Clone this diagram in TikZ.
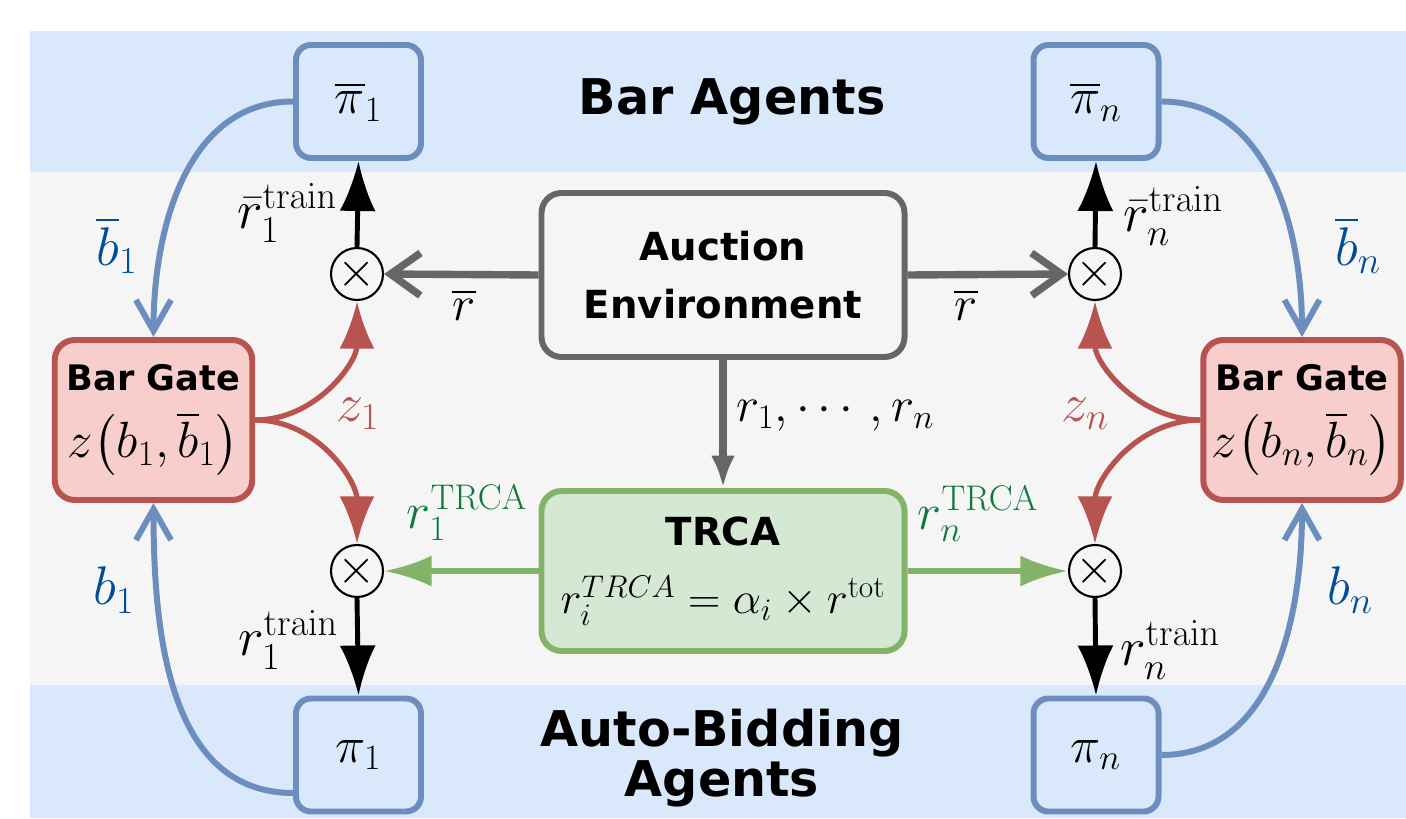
\documentclass[tikz,border=0pt]{standalone}
\usepackage{fix-cm}
\usepackage{amsmath,amssymb}
\usepackage[no-math]{fontspec}
\setsansfont{DejaVu Sans}
\usepackage{xcolor}
\usetikzlibrary{arrows.meta,positioning,calc}

\definecolor{bandblue}{HTML}{DAE8FC}
\definecolor{bandgray}{HTML}{F5F5F5}
\definecolor{agentline}{HTML}{6C8EBF}
\definecolor{gatefill}{HTML}{F8CECC}
\definecolor{gateline}{HTML}{B85450}
\definecolor{trcafill}{HTML}{D5E8D4}
\definecolor{trcaline}{HTML}{82B366}
\definecolor{envline}{HTML}{666666}
\definecolor{bidtext}{RGB}{0,76,153}
\definecolor{trcatext}{RGB}{16,120,60}

\newcommand{\bandfont}{\fontsize{28}{28.5}\selectfont\sffamily\bfseries}
\newcommand{\envfont}{\fontsize{22}{33}\selectfont\sffamily\bfseries}
\newcommand{\gatefont}{\fontsize{20}{24}\selectfont\sffamily\bfseries}
\newcommand{\symfont}{\fontsize{29}{34}\selectfont}
\newcommand{\formfont}{\fontsize{25.5}{30}\selectfont}
\newcommand{\bigsym}{\fontsize{31}{36}\selectfont}
\newcommand{\smallsym}{\fontsize{28}{32}\selectfont}

\begin{document}
\begin{tikzpicture}[line join=round,
  agentbox/.style={draw=agentline, fill=bandblue, line width=3.4pt, rounded corners=0.3cm,
    minimum width=2.5cm, minimum height=2.26cm, font=\symfont},
  gatebox/.style={draw=gateline, fill=gatefill, line width=3.4pt, rounded corners=0.4cm,
    minimum width=3.95cm, minimum height=3.2cm, align=center, font=\symfont},
  envbox/.style={draw=envline, fill=bandgray, line width=3.4pt, rounded corners=0.4cm,
    minimum width=7.26cm, minimum height=3.28cm, align=center},
  trcabox/.style={draw=trcaline, fill=trcafill, line width=3.4pt, rounded corners=0.4cm,
    minimum width=7.26cm, minimum height=3.2cm, align=center, font=\formfont},
  mult/.style={circle, draw, line width=1.2pt, minimum size=1.04cm, inner sep=0pt,
    font=\fontsize{28}{28}\selectfont},
  rewardarrow/.style={line width=2.8pt, -{Latex[length=1.0cm,width=0.72cm]}},
  gatearrow/.style={gateline, line width=3pt, -{Latex[length=0.95cm,width=0.7cm]}},
  trcaarrow/.style={trcaline, line width=3.4pt, -{Latex[length=0.95cm,width=0.62cm]}},
  envarrow/.style={envline, line width=4.2pt, -{Straight Barb[length=0.6cm,width=0.85cm]}},
  bidarrow/.style={agentline, line width=3.4pt, -{Straight Barb[length=0.62cm,width=0.7cm]}},
  lbl/.style={font=\bigsym}]
\useasboundingbox (0,0) rectangle (28.12,16.36);
% bands
\fill[bandblue] (0.6,12.92) rectangle (28.12,15.74);
\fill[bandgray] (0.6,2.66) rectangle (28.12,12.92);
\fill[bandblue] (0.6,0) rectangle (28.12,2.66);
\node[font=\bandfont] (baragents) at (14.64,14.32) {Bar Agents};
\node[font=\bandfont, align=center] (autoagents) at (14.44,1.2) {Auto-Bidding\\Agents};

% agents
\node[agentbox] (pibar1) at (7.17,14.33) {$\overline{\pi}_1$};
\node[agentbox] (pibarn) at (21.92,14.33) {$\overline{\pi}_n$};
\node[agentbox] (pi1) at (7.17,1.26) {$\pi_1$};
\node[agentbox] (pin) at (21.92,1.26) {$\pi_n$};

% environment and TRCA
\node[envbox, font=\envfont] (env) at (14.46,10.86) {Auction\\Environment};
\node[trcabox] (trca) at (14.46,4.94) {{\envfont TRCA}\\[9pt]$r_i^{TRCA}=\alpha_i\times r^{\mathrm{tot}}$};

% gates
\node[gatebox] (gate1) at (3.07,7.96) {{\gatefont Bar Gate}\\[4pt]$z\bigl(b_1,\overline{b}_1\bigr)$};
\node[gatebox] (gaten) at (26.04,7.96) {{\gatefont Bar Gate}\\[4pt]$z\bigl(b_n,\overline{b}_n\bigr)$};

% products
\node[mult] (mbar1) at (7.14,10.88) {$\times$};
\node[mult] (mbarn) at (21.9,10.88) {$\times$};
\node[mult] (m1) at (7.14,4.94) {$\times$};
\node[mult] (mn) at (21.9,4.94) {$\times$};

% rewards
\draw[envarrow] (env.west) -- (mbar1.east);
\draw[envarrow] (env.east) -- (mbarn.west);
\draw[envline, line width=4pt, -{Latex[length=0.65cm,width=0.48cm]}] (env.south) -- (env.south |- trca.north);
\draw[trcaarrow] (trca.west) -- (m1.east);
\draw[trcaarrow] (trca.east) -- (mn.west);
\draw[rewardarrow] (mbar1.north) -- (pibar1.south);
\draw[rewardarrow] (mbarn.north) -- (pibarn.south);
\draw[rewardarrow] (m1.south) -- (pi1.north);
\draw[rewardarrow] (mn.south) -- (pin.north);

% gate outputs
\draw[gatearrow] (gate1.east) to[out=0,in=-90] (mbar1.south);
\draw[gatearrow] (gate1.east) to[out=0,in=90] (m1.north);
\draw[gatearrow] (gaten.west) to[out=180,in=-90] (mbarn.south);
\draw[gatearrow] (gaten.west) to[out=180,in=90] (mn.north);

% bids
\draw[bidarrow] (pibar1.west) to[out=180,in=90] (gate1.north);
\draw[bidarrow] ([yshift=-0.76cm]pi1.west) to[out=180,in=-90] (gate1.south);
\draw[bidarrow] (pibarn.east) to[out=0,in=90] (gaten.north);
\draw[bidarrow] (pin.east) to[out=0,in=-90] (gaten.south);

% labels
\node[lbl, bidtext] (lbarb1) at (2.34,11.46) {$\overline{b}_1$};
\node[lbl, bidtext] (lbarbn) at (27.16,11.46) {$\overline{b}_n$};
\node[lbl, bidtext] (lb1) at (2.28,4.56) {$b_1$};
\node[lbl, bidtext] (lbn) at (27.0,4.56) {$b_n$};
\node[lbl, gateline] (lz1) at (7.16,8.08) {$z_1$};
\node[lbl, gateline] (lzn) at (21.7,8.08) {$z_n$};
\node[lbl] (lrbar1) at (5.74,12.1) {$\bar{r}_1^{\mathrm{train}}$};
\node[lbl] (lrbarn) at (23.46,12.04) {$\bar{r}_n^{\mathrm{train}}$};
\node[lbl] (lr1) at (5.76,3.56) {$r_1^{\mathrm{train}}$};
\node[lbl] (lrn) at (23.4,3.36) {$r_n^{\mathrm{train}}$};
\node[font=\smallsym] (lrbarl) at (9.28,10.26) {$\overline{r}$};
\node[font=\smallsym] (lrbarr) at (19.32,10.26) {$\overline{r}$};
\node[font=\smallsym, anchor=west] (lrall) at (14.6,8.06) {$r_1,\cdots,r_n$};
\node[font=\symfont, trcatext] (ltrca1) at (9.34,6.1) {$r_1^{\mathrm{TRCA}}$};
\node[font=\symfont, trcatext] (ltrcan) at (19.56,6.08) {$r_n^{\mathrm{TRCA}}$};
\end{tikzpicture}
\end{document}
